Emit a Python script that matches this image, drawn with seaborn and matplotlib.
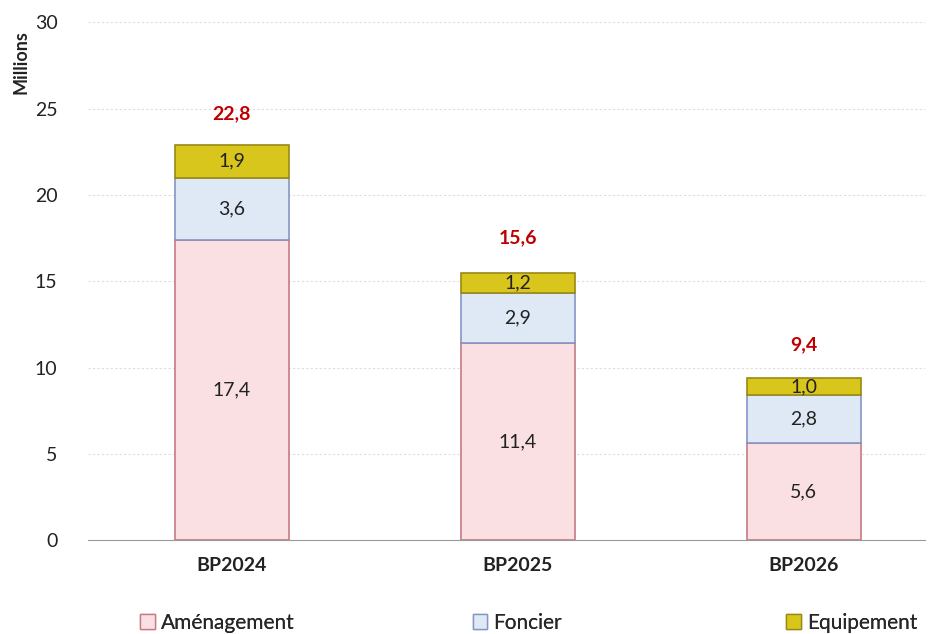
import matplotlib
matplotlib.use("Agg")
import matplotlib.pyplot as plt
import seaborn as sns
import pandas as pd
from matplotlib.patches import Patch

# data (millions)
years = ["BP2024", "BP2025", "BP2026"]
amenagement = [17.4, 11.4, 5.6]
foncier = [3.6, 2.9, 2.8]
equipement = [1.9, 1.2, 1.0]
totals = [22.8, 15.6, 9.4]

df = pd.DataFrame({"Année": years, "Aménagement": amenagement,
                   "Foncier": foncier, "Equipement": equipement})

sns.set_style("white")
plt.rcParams["font.family"] = ["Lato", "DejaVu Sans"]

fig = plt.figure(figsize=(9.36, 6.34), dpi=100)
ax = fig.add_axes([0.094, 0.148, 0.894, 0.817])

series = ["Aménagement", "Foncier", "Equipement"]
faces = ["#fbe0e3", "#dfe8f5", "#d9c61c"]
edges = ["#c77a84", "#8595c4", "#9a8a12"]

bottom = [0, 0, 0]
for s, fc, ec in zip(series, faces, edges):
    sns.barplot(data=df, x="Année", y=s, bottom=bottom, color=fc,
                edgecolor=ec, linewidth=1.2, width=0.4, ax=ax,
                saturation=1)
    for i, v in enumerate(df[s]):
        ax.text(i, bottom[i] + v / 2, f"{v:.1f}".replace(".", ","),
                ha="center", va="center", fontsize=14, color="#222222")
    bottom = [b + v for b, v in zip(bottom, df[s])]

for i, t in enumerate(totals):
    ax.text(i, t + 1.9, f"{t:.1f}".replace(".", ","), ha="center",
            va="center", fontsize=14, fontweight="bold", color="#c00000")

ax.set_ylim(0, 30)
ax.set_xlim(-0.503, 2.423)
ax.set_yticks(range(0, 31, 5))
ax.yaxis.grid(True, color="#dddddd", linestyle=(0, (2, 2)), linewidth=0.8)
ax.set_axisbelow(True)
for sp in ["top", "right", "left"]:
    ax.spines[sp].set_visible(False)
ax.spines["bottom"].set_color("#999999")
ax.tick_params(axis="y", labelsize=14, length=0, pad=22, colors="#222222")
ax.tick_params(axis="x", labelsize=14, length=0, pad=12, colors="#222222")
for lab in ax.get_xticklabels():
    lab.set_fontweight("bold")
ax.set_xlabel("")
ax.set_ylabel("")
fig.text(0.022, 0.902, "Millions", rotation=90, ha="center", va="center",
         fontsize=13, fontweight="bold", color="#222222")

# legend entries placed like Excel's fixed-width legend columns
leg_x = [0.150, 0.505, 0.840]
for s, fc, ec, lx in zip(series, faces, edges, leg_x):
    lg = fig.legend(handles=[Patch(facecolor=fc, edgecolor=ec, label=s)],
                    loc="center left", bbox_to_anchor=(lx, 0.018),
                    frameon=False, fontsize=15, borderpad=0,
                    borderaxespad=0, handlelength=0.7, handleheight=0.7,
                    handletextpad=0.3)
    fig.add_artist(lg)

fig.savefig("out.png", dpi=100)
